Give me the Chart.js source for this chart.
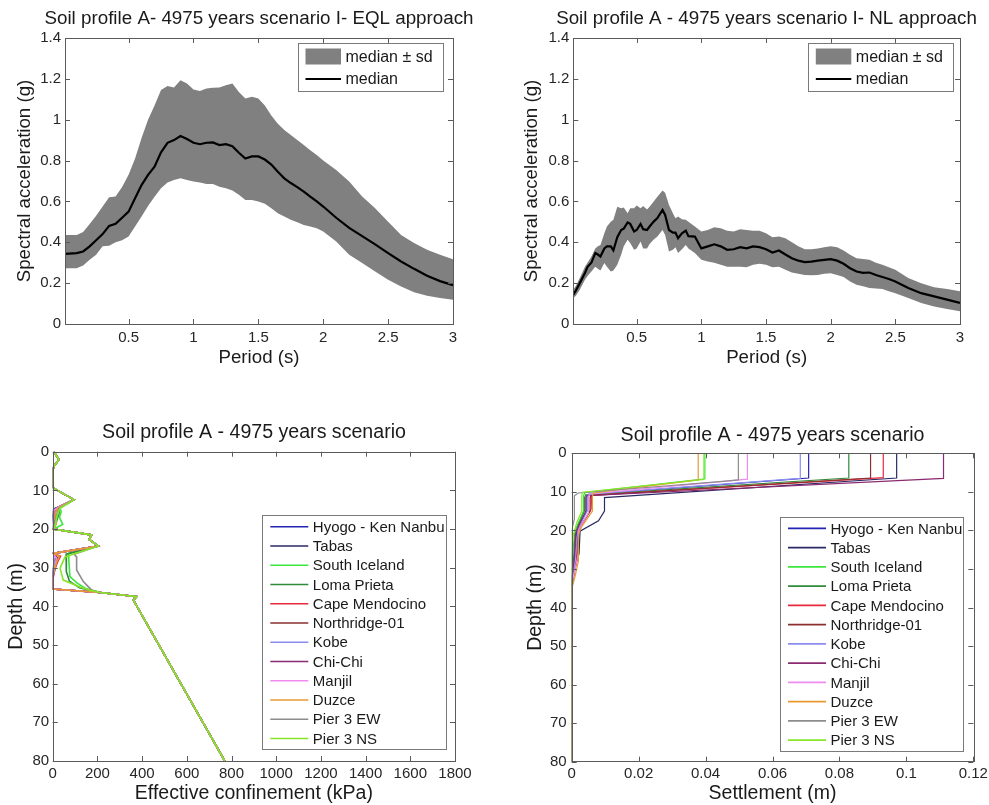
<!DOCTYPE html>
<html>
<head>
<meta charset="utf-8">
<script src="https://cdn.jsdelivr.net/npm/chart.js"></script>
<style>
  html,body{margin:0;padding:0;background:#fff;}
  body{width:989px;height:805px;position:relative;overflow:hidden;}
  canvas{position:absolute;}
</style>
</head>
<body>
<canvas id="c1" width="518" height="370" style="left:0;top:0"></canvas>
<canvas id="c2" width="543" height="370" style="left:495px;top:0"></canvas>
<canvas id="c3" width="508" height="405" style="left:0;top:400px"></canvas>
<canvas id="c4" width="555" height="405" style="left:495px;top:400px"></canvas>
<script>
// ---------------- DATA ----------------
// Top-left: EQL approach
const T_EQL = [0.01,0.1,0.15,0.2,0.25,0.3,0.35,0.4,0.45,0.5,0.55,0.6,0.65,0.7,0.75,0.8,0.85,0.9,0.95,1.0,1.05,1.1,1.15,1.2,1.25,1.3,1.35,1.4,1.45,1.5,1.55,1.6,1.65,1.7,1.75,1.8,1.85,1.9,1.95,2.0,2.1,2.2,2.3,2.4,2.5,2.6,2.7,2.8,2.9,3.0];
const EQL_median = [0.343,0.347,0.355,0.38,0.41,0.44,0.48,0.49,0.52,0.55,0.615,0.68,0.73,0.77,0.84,0.887,0.90,0.92,0.905,0.887,0.88,0.887,0.889,0.876,0.88,0.87,0.838,0.81,0.82,0.82,0.805,0.78,0.745,0.713,0.69,0.67,0.648,0.623,0.60,0.575,0.52,0.47,0.43,0.39,0.347,0.306,0.27,0.236,0.21,0.19];
const EQL_upper = [0.436,0.436,0.45,0.49,0.53,0.575,0.62,0.624,0.67,0.73,0.81,0.91,1.0,1.07,1.145,1.165,1.157,1.193,1.177,1.148,1.141,1.153,1.156,1.157,1.169,1.177,1.136,1.104,1.112,1.104,1.07,1.02,0.98,0.95,0.925,0.90,0.876,0.85,0.827,0.80,0.754,0.697,0.624,0.566,0.50,0.436,0.396,0.363,0.339,0.317];
const EQL_lower = [0.273,0.273,0.286,0.314,0.339,0.38,0.383,0.40,0.41,0.428,0.477,0.526,0.578,0.623,0.664,0.692,0.705,0.713,0.705,0.697,0.692,0.685,0.685,0.672,0.664,0.653,0.632,0.607,0.607,0.60,0.588,0.566,0.542,0.526,0.51,0.498,0.485,0.477,0.469,0.453,0.404,0.339,0.298,0.257,0.217,0.184,0.156,0.138,0.127,0.119];

// Top-right: NL approach
const T_NL = [0.01,0.03,0.06,0.1,0.12,0.15,0.18,0.2,0.22,0.25,0.27,0.3,0.32,0.35,0.38,0.4,0.43,0.45,0.48,0.5,0.53,0.55,0.58,0.6,0.63,0.66,0.7,0.72,0.75,0.78,0.8,0.82,0.85,0.88,0.9,0.95,1.0,1.05,1.1,1.15,1.2,1.25,1.3,1.35,1.4,1.45,1.5,1.55,1.6,1.65,1.7,1.75,1.8,1.85,1.9,1.95,2.0,2.05,2.1,2.15,2.2,2.25,2.3,2.35,2.4,2.45,2.5,2.6,2.7,2.8,2.9,3.0];
const NL_median = [0.143,0.164,0.2,0.25,0.28,0.30,0.347,0.34,0.33,0.37,0.38,0.38,0.36,0.425,0.46,0.467,0.497,0.49,0.453,0.46,0.49,0.464,0.46,0.477,0.50,0.518,0.558,0.534,0.46,0.447,0.447,0.42,0.444,0.457,0.43,0.428,0.37,0.38,0.39,0.38,0.363,0.366,0.376,0.37,0.38,0.376,0.366,0.35,0.36,0.34,0.322,0.31,0.303,0.305,0.31,0.314,0.317,0.31,0.295,0.273,0.257,0.25,0.252,0.24,0.23,0.22,0.208,0.176,0.151,0.135,0.119,0.103];
const NL_upper = [0.168,0.187,0.225,0.28,0.30,0.33,0.37,0.38,0.387,0.444,0.477,0.50,0.51,0.574,0.566,0.57,0.542,0.566,0.566,0.58,0.566,0.577,0.56,0.574,0.598,0.623,0.653,0.643,0.583,0.542,0.518,0.526,0.513,0.51,0.50,0.477,0.453,0.46,0.474,0.469,0.457,0.453,0.464,0.46,0.457,0.457,0.444,0.425,0.428,0.42,0.40,0.38,0.366,0.366,0.37,0.376,0.38,0.376,0.36,0.339,0.322,0.318,0.314,0.30,0.29,0.278,0.265,0.225,0.2,0.18,0.171,0.16];
const NL_lower = [0.127,0.138,0.168,0.216,0.235,0.257,0.28,0.27,0.262,0.298,0.28,0.257,0.262,0.29,0.339,0.38,0.412,0.396,0.363,0.37,0.404,0.37,0.37,0.392,0.412,0.428,0.46,0.436,0.355,0.363,0.376,0.347,0.366,0.387,0.37,0.347,0.314,0.306,0.30,0.29,0.28,0.28,0.28,0.278,0.29,0.295,0.29,0.278,0.28,0.265,0.252,0.246,0.24,0.239,0.24,0.246,0.249,0.24,0.23,0.208,0.192,0.185,0.176,0.174,0.171,0.16,0.151,0.127,0.103,0.086,0.073,0.062];

// Records (legend order) and colours
const records = ['Hyogo - Ken Nanbu','Tabas','South Iceland','Loma Prieta','Cape Mendocino','Northridge-01','Kobe','Chi-Chi','Manjil','Duzce','Pier 3 EW','Pier 3 NS'];
const recordColors = ['#2424b4','#2a2a66','#3ce63c','#2f8a3a','#e8283c','#8a3030','#8c8cf0','#8a2a70','#f08cf0','#e89a30','#8c8c8c','#88e628'];

// Bottom-left: effective confinement (kPa) vs depth (m), pairs [kPa, depth]
const conf_Hyogo      = [[5,0],[28,2],[5,3.8],[0,5],[0,9.2],[15,9.8],[95,12.4],[30,14.2],[3,15],[0,17],[3,18.5],[3,20],[174,21.5],[163,22.7],[204,24.4],[3,26.3],[20,27.5],[8,29],[2,31],[0,33],[0,35.5],[212,36.4],[331,37.2],[375,37.5],[361,38.4],[770,80]];
const conf_Tabas      = [[5,0],[28,2],[5,3.8],[0,5],[0,9.2],[15,9.8],[95,12.4],[30,14.2],[5,14.8],[0,16.5],[5,19],[3,20],[174,21.5],[163,22.7],[204,24.4],[3,26.3],[15,27.2],[5,29],[0,31],[0,35.5],[212,36.4],[331,37.2],[375,37.5],[361,38.4],[770,80]];
const conf_SIceland   = [[5,0],[28,2],[5,3.8],[0,5],[0,9.2],[15,9.8],[95,12.4],[33,14.6],[38,15.5],[30,17],[45,18.8],[5,20],[174,21.5],[163,22.7],[204,24.4],[70,26.3],[72,28],[77,32.3],[110,34],[145,35.3],[170,35.8],[212,36.4],[331,37.2],[375,37.5],[361,38.4],[770,80]];
const conf_Loma       = [[5,0],[28,2],[5,3.8],[0,5],[0,9.2],[15,9.8],[95,12.4],[30,14.5],[28,16],[20,17.5],[12,19],[3,20],[174,21.5],[163,22.7],[204,24.4],[60,26.5],[62,28],[60,31],[75,33.5],[120,35.2],[165,35.8],[212,36.4],[331,37.2],[375,37.5],[361,38.4],[770,80]];
const conf_Cape       = [[5,0],[28,2],[5,3.8],[0,5],[0,9.2],[15,9.8],[95,12.4],[25,14.4],[10,15.5],[5,17],[8,18.8],[3,20],[174,21.5],[163,22.7],[204,24.4],[3,26.3],[35,27],[22,28.5],[8,30.5],[2,32.5],[0,35.5],[212,36.4],[331,37.2],[375,37.5],[361,38.4],[770,80]];
const conf_Northridge = [[5,0],[28,2],[5,3.8],[0,5],[0,9.2],[15,9.8],[95,12.4],[25,14.4],[12,15.5],[8,17],[10,18.8],[3,20],[174,21.5],[163,22.7],[204,24.4],[3,26.3],[28,27],[15,28.5],[4,30.5],[0,32.5],[0,35.5],[212,36.4],[331,37.2],[375,37.5],[361,38.4],[770,80]];
const conf_Kobe       = [[5,0],[28,2],[5,3.8],[0,5],[0,9.2],[15,9.8],[95,12.4],[28,14.3],[6,15],[3,17],[5,18.8],[3,20],[174,21.5],[163,22.7],[204,24.4],[3,26.3],[12,27.3],[8,29],[2,31],[0,33],[0,35.5],[212,36.4],[331,37.2],[375,37.5],[361,38.4],[770,80]];
const conf_ChiChi     = [[5,0],[28,2],[5,3.8],[0,5],[0,9.2],[15,9.8],[95,12.4],[28,14.3],[6,15.2],[3,17],[6,18.8],[3,20],[174,21.5],[163,22.7],[204,24.4],[3,26.3],[18,27.3],[15,29],[10,30.5],[3,32],[0,35.5],[212,36.4],[331,37.2],[375,37.5],[361,38.4],[770,80]];
const conf_Manjil     = [[5,0],[28,2],[5,3.8],[0,5],[0,9.2],[15,9.8],[95,12.4],[28,14.3],[5,15.2],[2,17],[5,18.8],[3,20],[174,21.5],[163,22.7],[204,24.4],[3,26.3],[16,27.5],[12,29.5],[5,31],[0,33],[0,35.5],[212,36.4],[331,37.2],[375,37.5],[361,38.4],[770,80]];
const conf_Duzce      = [[5,0],[28,2],[5,3.8],[0,5],[0,9.2],[15,9.8],[95,12.4],[28,14.4],[14,15.5],[10,17],[15,18.8],[3,20],[174,21.5],[163,22.7],[204,24.4],[3,26.3],[30,27],[18,28.5],[6,30.5],[1,32.5],[0,35.5],[212,36.4],[331,37.2],[375,37.5],[361,38.4],[770,80]];
const conf_Pier3EW    = [[5,0],[28,2],[5,3.8],[0,5],[0,9.2],[15,9.8],[95,12.4],[30,14.6],[22,15.5],[15,17],[10,18.8],[3,20],[174,21.5],[163,22.7],[204,24.4],[95,26.5],[107,27.2],[107,30.6],[137,33.6],[159,34.9],[175,35.8],[212,36.4],[331,37.2],[375,37.5],[361,38.4],[770,80]];
const conf_Pier3NS    = [[5,0],[28,2],[5,3.8],[0,5],[0,9.2],[15,9.8],[95,12.4],[33,14.6],[26,15.5],[18,17],[12,18.8],[3,20],[174,21.5],[163,22.7],[204,24.4],[55,27.2],[33,30.1],[47,33.2],[122,35],[165,35.8],[212,36.4],[331,37.2],[375,37.5],[361,38.4],[770,80]];
const confProfiles = [conf_Hyogo,conf_Tabas,conf_SIceland,conf_Loma,conf_Cape,conf_Northridge,conf_Kobe,conf_ChiChi,conf_Manjil,conf_Duzce,conf_Pier3EW,conf_Pier3NS];

// Bottom-right: settlement (m) vs depth (m), pairs [m, depth]
const set_Hyogo      = [[0.0708,0],[0.0708,6.4],[0.0048,10.7],[0.0045,11.3],[0.0045,15],[0.0025,18],[0.0015,20],[0.001,26],[0,32],[0,80]];
const set_Tabas      = [[0.0971,0],[0.0971,6.4],[0.0098,11.5],[0.0098,15],[0.008,17.5],[0.0025,20.2],[0.0022,26],[0.0015,28],[0.0005,31],[0,34],[0,80]];
const set_SIceland   = [[0.0398,0],[0.0398,6.6],[0.004,10.2],[0.0035,11],[0.0035,15],[0.002,18],[0.001,20],[0.0005,24],[0,28],[0,80]];
const set_Loma       = [[0.0828,0],[0.0828,6.4],[0.0042,10.8],[0.0038,11.5],[0.0038,15],[0.002,18.5],[0.001,21],[0.0005,28],[0,34],[0,80]];
const set_Cape       = [[0.0931,0],[0.0931,6.3],[0.006,10.9],[0.0058,11.5],[0.0058,14.5],[0.003,18.5],[0.0018,20.5],[0.0018,27],[0.0008,31],[0,35],[0,80]];
const set_Northridge = [[0.0893,0],[0.0893,6.4],[0.0058,10.9],[0.0055,11.5],[0.0055,15],[0.003,18.5],[0.0018,20.5],[0.0015,27],[0.0005,32],[0,36],[0,80]];
const set_Kobe       = [[0.0683,0],[0.0683,6.5],[0.005,10.6],[0.0046,11.3],[0.0046,15],[0.002,19.5],[0.0015,22],[0.0008,30],[0,35],[0,80]];
const set_ChiChi     = [[0.1111,0],[0.1111,6.5],[0.0045,11],[0.0042,11.5],[0.0042,15],[0.002,19],[0.0012,21],[0.0008,27],[0,33],[0,80]];
const set_Manjil     = [[0.0525,0],[0.0525,6.7],[0.0055,10.5],[0.005,11.2],[0.005,15.5],[0.002,20],[0.002,26],[0.001,30],[0,34],[0,80]];
const set_Duzce      = [[0.0378,0],[0.0378,6.9],[0.0065,10.3],[0.0062,11],[0.0062,15],[0.003,19],[0.002,21],[0.002,28],[0.001,32],[0,35],[0,80]];
const set_Pier3EW    = [[0.0498,0],[0.0498,6.9],[0.046,7.2],[0.002,10.3],[0.0008,11],[0.0008,17],[0,20],[0,80]];
const set_Pier3NS    = [[0.0395,0],[0.0395,6.8],[0.0032,10.1],[0.003,11],[0.003,15],[0.0015,18],[0.0005,21],[0,26],[0,80]];
const settleProfiles = [set_Hyogo,set_Tabas,set_SIceland,set_Loma,set_Cape,set_Northridge,set_Kobe,set_ChiChi,set_Manjil,set_Duzce,set_Pier3EW,set_Pier3NS];

// Tick values
const ticksPeriod = [0.5,1,1.5,2,2.5,3];
const ticksSa = [0,0.2,0.4,0.6,0.8,1,1.2,1.4];
const ticksDepth = [0,10,20,30,40,50,60,70,80];
const ticksConf = [0,200,400,600,800,1000,1200,1400,1600,1800];
const ticksSettle = [0,0.02,0.04,0.06,0.08,0.1,0.12];

// ---------------- HELPERS ----------------
Chart.defaults.font.family = '"Liberation Sans", Arial, Helvetica, sans-serif';
Chart.defaults.color = '#262626';

function fmt(v){ return String(+(+v).toFixed(4)); }

function axis(o){
  return {
    type:'linear', min:o.min, max:o.max, reverse:!!o.reverse,
    afterBuildTicks: s => { s.ticks = o.ticks.map(v => ({value:v})); },
    ticks:{autoSkip:false, maxRotation:0, minRotation:0, padding:o.pad, color:'#262626', font:{size:15}, callback:v => fmt(v)},
    grid:{display:false, drawTicks:false},
    border:{display:false},
    title:{display:true, text:o.title, color:'#1a1a1a', font:{size:o.tsize},
           padding: o.horizontal ? {top:0,bottom:o.tpad} : {top:o.tpad,bottom:0}},
    afterFit: s => { if (s.isHorizontal()) s.height = o.size; else s.width = o.size; }
  };
}
// empty spacer on the right so the full-width title is centred over the plot
function spacer(w){
  return {position:'right', display:true, grid:{display:false, drawTicks:false}, border:{display:false},
          ticks:{display:false}, title:{display:false}, afterFit: s => { s.width = w; }};
}

const boxTicks = {
  id:'boxTicks',
  afterDatasetsDraw(chart){
    const {ctx, chartArea:a, scales} = chart;
    ctx.save();
    ctx.strokeStyle = '#5a5a5a'; ctx.lineWidth = 1;
    ctx.beginPath();
    const L = 5;
    scales.x.ticks.forEach(t => {
      const px = Math.round(scales.x.getPixelForValue(t.value)) + 0.5;
      ctx.moveTo(px, a.bottom); ctx.lineTo(px, a.bottom - L);
      ctx.moveTo(px, a.top); ctx.lineTo(px, a.top + L);
    });
    scales.y.ticks.forEach(t => {
      const py = Math.round(scales.y.getPixelForValue(t.value)) + 0.5;
      ctx.moveTo(a.left, py); ctx.lineTo(a.left + L, py);
      ctx.moveTo(a.right, py); ctx.lineTo(a.right - L, py);
    });
    ctx.stroke();
    ctx.strokeRect(Math.round(a.left)+0.5, Math.round(a.top)+0.5, Math.round(a.right-a.left), Math.round(a.bottom-a.top));
    ctx.restore();
  }
};

function makeLegend(o){
  return {
    id:'boxLegend',
    afterDraw(chart){
      const ctx = chart.ctx;
      ctx.save();
      ctx.fillStyle = '#fff';
      ctx.fillRect(o.x, o.y, o.w, o.h);
      ctx.strokeStyle = '#7a7a7a'; ctx.lineWidth = 1;
      ctx.strokeRect(Math.round(o.x)+0.5, Math.round(o.y)+0.5, Math.round(o.w), Math.round(o.h));
      ctx.font = o.size + 'px "Liberation Sans", Arial, sans-serif';
      ctx.textBaseline = 'middle'; ctx.textAlign = 'left';
      o.items.forEach((it, i) => {
        const cy = o.row0 + i * o.dy;
        if (it.patch) {
          ctx.fillStyle = it.color;
          ctx.fillRect(o.sx0, cy - o.ph/2, o.sx1 - o.sx0, o.ph);
        } else {
          ctx.strokeStyle = it.color; ctx.lineWidth = it.width;
          ctx.beginPath(); ctx.moveTo(o.sx0, cy); ctx.lineTo(o.sx1, cy); ctx.stroke();
        }
        ctx.fillStyle = '#1a1a1a';
        ctx.fillText(it.text, o.tx, cy + 1);
      });
      ctx.restore();
    }
  };
}

function spectrumChart(id, title, T, med, up, lo, lay){
  const pts = arr => T.map((t,i) => ({x:t, y:arr[i]}));
  return new Chart(document.getElementById(id), {
    type:'line',
    data:{datasets:[
      {label:'median', data:pts(med), fill:false, borderColor:'#000', borderWidth:2.2, pointRadius:0},
      {label:'median ± sd', data:pts(up), fill:'+1', backgroundColor:'#808080', borderColor:'rgba(0,0,0,0)', borderWidth:0, pointRadius:0},
      {label:'lower', data:pts(lo), fill:false, borderColor:'rgba(0,0,0,0)', borderWidth:0, pointRadius:0}
    ]},
    options:{
      responsive:false, animation:false, devicePixelRatio:1,
      layout:{padding:0},
      plugins:{
        legend:{display:false}, tooltip:{enabled:false},
        title:{display:true, text:title, fullSize:true, color:'#1a1a1a', font:{size:18.8, weight:'normal'}, padding:{top:7.4,bottom:8.0}}
      },
      scales:{
        x: axis({min:0.01,max:3,ticks:ticksPeriod,pad:5,title:'Period (s)',tsize:18.7,tpad:0.8,horizontal:true,size:46}),
        y: axis({min:0,max:1.4,ticks:ticksSa,pad:4,title:'Spectral acceleration (g)',tsize:18.7,tpad:lay.ytpad,size:lay.ysize}),
        yr: spacer(lay.right)
      }
    },
    plugins:[boxTicks, makeLegend({
      x:lay.lx, y:43, w:145, h:48, size:16, row0:56.5, dy:22.5, sx0:lay.lx+7.5, sx1:lay.lx+43, ph:16, tx:lay.lx+47.5,
      items:[{patch:true,color:'#808080',text:'median ± sd'},{color:'#000',width:2.2,text:'median'}]
    })]
  });
}

function profileChart(id, profiles, xo, lay){
  return new Chart(document.getElementById(id), {
    type:'line',
    data:{datasets: profiles.map((p,i) => ({
      label:records[i], data:p.map(q => ({x:q[0], y:q[1]})),
      borderColor:recordColors[i], borderWidth:lay.lw, pointRadius:0, fill:false,
      order: profiles.length - i
    }))},
    options:{
      responsive:false, animation:false, devicePixelRatio:1,
      layout:{padding:0},
      plugins:{
        legend:{display:false}, tooltip:{enabled:false},
        title:{display:true, text:'Soil profile A - 4975 years scenario', fullSize:true, color:'#1a1a1a', font:{size:19.6, weight:'normal'}, padding:lay.tpad}
      },
      scales:{
        x: axis({min:0,max:xo.max,ticks:xo.ticks,pad:3.5,title:xo.title,tsize:19.5,tpad:0,horizontal:true,size:lay.xsize}),
        y: axis({min:0,max:80,reverse:true,ticks:ticksDepth,pad:lay.ypad,title:'Depth (m)',tsize:19.5,tpad:lay.ytpad,size:lay.ysize}),
        yr: spacer(lay.right)
      }
    },
    plugins:[boxTicks, makeLegend({
      x:lay.lx, y:lay.ly, w:lay.lw2, h:234, size:15, row0:lay.ly+11.7, dy:19.25, sx0:lay.lx+8, sx1:lay.lx+46, tx:lay.lx+50.5,
      items: records.map((r,i) => ({color:recordColors[i], width:1.6, text:r}))
    })]
  });
}

// ---------------- CHARTS ----------------
spectrumChart('c1','Soil profile A- 4975 years scenario I- EQL approach', T_EQL, EQL_median, EQL_upper, EQL_lower,
  {right:65, ysize:65, ytpad:13.7, lx:298});
spectrumChart('c2','Soil profile A - 4975 years scenario I- NL approach', T_NL, NL_median, NL_upper, NL_lower,
  {right:78, ysize:78.3, ytpad:25.4, lx:313.3});
profileChart('c3', confProfiles, {max:1800, ticks:ticksConf, title:'Effective confinement (kPa)'},
  {right:53, ysize:52.7, xsize:44, ypad:3.5, ytpad:5, lw:1.6, tpad:{top:20.7,bottom:7.5}, lx:262.3, ly:115, lw2:183.7});
profileChart('c4', settleProfiles, {max:0.12, ticks:ticksSettle, title:'Settlement (m)'},
  {right:76.7, ysize:76.7, xsize:43.3, ypad:5, ytpad:29.1, lw:1.2, tpad:{top:23.7,bottom:6.1}, lx:285, ly:116.7, lw2:183.3});
</script>
</body>
</html>
